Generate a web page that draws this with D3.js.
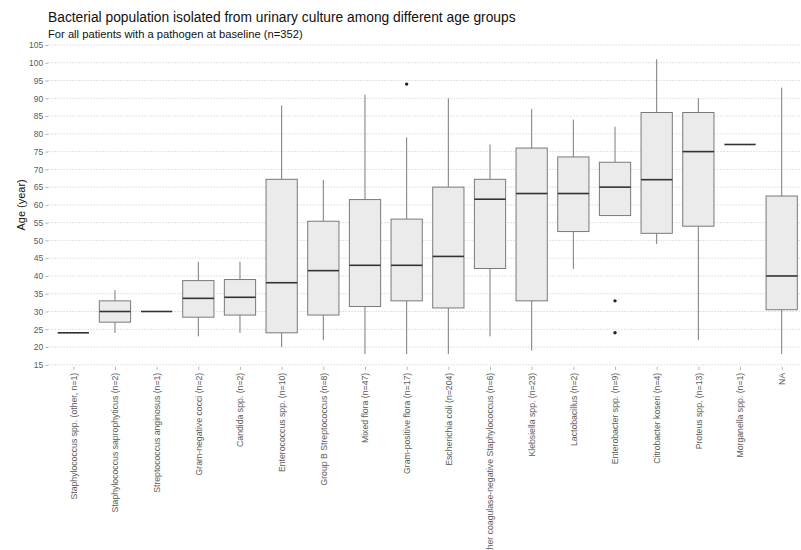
<!DOCTYPE html>
<html>
<head>
<meta charset="utf-8">
<script src="https://cdn.jsdelivr.net/npm/d3@7"></script>
<style>
  body { margin: 0; background: #fff; }
  svg { font-family: "Liberation Sans", Arial, sans-serif; }
</style>
</head>
<body>
<div id="chart"></div>
<script>
// Categories on the x axis
const categories = [
  "Staphylococcus spp. (other, n=1)",
  "Staphylococcus saprophyticus (n=2)",
  "Streptococcus anginosus (n=1)",
  "Gram-negative cocci (n=2)",
  "Candida spp. (n=2)",
  "Enterococcus spp. (n=10)",
  "Group B Streptococcus (n=8)",
  "Mixed flora (n=47)",
  "Gram-positive flora (n=17)",
  "Escherichia coli (n=204)",
  "Other coagulase-negative Staphylococcus (n=6)",
  "Klebsiella spp. (n=23)",
  "Lactobacillus (n=2)",
  "Enterobacter spp. (n=9)",
  "Citrobacter koseri (n=4)",
  "Proteus spp. (n=13)",
  "Morganella spp. (n=1)",
  "NA"
];

// Box statistics (years)
const whiskerLow  = [24, 24, 30, 23, 24, 20, 22, 18, 18, 18, 23, 19, 42, 57, 49, 22, 77, 18];
const q1          = [24, 27, 30, 28.4, 29, 24, 29, 31.4, 33, 31, 42.1, 33, 52.5, 57, 52, 54, 77, 30.5];
const median      = [24, 30, 30, 33.7, 34, 38.1, 41.5, 43, 43, 45.5, 61.6, 63.2, 63.2, 65, 67.1, 75, 77, 40];
const q3          = [24, 33, 30, 38.7, 39, 67.2, 55.4, 61.5, 56, 65, 67.2, 76, 73.5, 72, 86, 86, 77, 62.5];
const whiskerHigh = [24, 36, 30, 44, 44, 88, 67, 91, 79, 90, 77, 87, 84, 82, 101, 90, 77, 93];
// Outliers as [category index, value]
const outliers = [[8, 94], [13, 33], [13, 24]];

const yTicks = d3.range(15, 106, 5);

const width = 801, height = 550;
const margin = { top: 45, left: 48.3 };
const panelRight = 806.7, panelBottom = 364.8;

const svg = d3.select('#chart')
  .append('svg')
  .attr('width', width)
  .attr('height', height);

const x = d3.scalePoint()
  .domain(categories)
  .range([margin.left, panelRight])
  .padding(0.6);

const y = d3.scaleLinear()
  .domain([15, 105])
  .range([panelBottom, margin.top]);

const boxW = x.step() * 0.75;

// Horizontal dotted grid
svg.append('g')
  .selectAll('line')
  .data(yTicks)
  .enter()
  .append('line')
  .attr('x1', margin.left)
  .attr('x2', width)
  .attr('y1', d => y(d))
  .attr('y2', d => y(d))
  .style('stroke', '#d9d9d9')
  .style('stroke-width', 1)
  .style('stroke-dasharray', '1.5,1.5');

// Y axis
const yAxis = svg.append('g')
  .attr('transform', `translate(${margin.left},0)`)
  .call(d3.axisLeft(y).tickValues(yTicks).tickSize(3).tickPadding(2));
yAxis.select('.domain').remove();
yAxis.selectAll('line').style('stroke', '#b3b3b3');
yAxis.selectAll('text')
  .style('font-size', '8.5px')
  .style('fill', '#5a5a5a')
  .style('font-family', '"Liberation Sans", Arial, sans-serif');

// X axis with rotated labels
const xAxis = svg.append('g')
  .attr('transform', `translate(0,${panelBottom + 2})`)
  .call(d3.axisBottom(x).tickSize(3).tickPadding(3));
xAxis.select('.domain').remove();
xAxis.selectAll('line').style('stroke', '#b3b3b3');
xAxis.selectAll('text')
  .attr('transform', 'rotate(-90)')
  .attr('x', -6)
  .attr('y', 0)
  .attr('dy', '0.32em')
  .style('text-anchor', 'end')
  .style('font-size', '8.7px')
  .style('fill', '#5a5a5a')
  .style('font-family', '"Liberation Sans", Arial, sans-serif');

// Boxes
const boxes = svg.append('g')
  .selectAll('g')
  .data(categories.map((c, i) => ({
    cat: c,
    lo: whiskerLow[i], q1: q1[i], med: median[i], q3: q3[i], hi: whiskerHigh[i]
  })))
  .enter()
  .append('g')
  .attr('transform', d => `translate(${x(d.cat)},0)`);

boxes.append('line')
  .attr('y1', d => y(d.q3))
  .attr('y2', d => y(d.hi))
  .style('stroke', '#7a7a7a');

boxes.append('line')
  .attr('y1', d => y(d.q1))
  .attr('y2', d => y(d.lo))
  .style('stroke', '#7a7a7a');

boxes.append('rect')
  .attr('x', -boxW / 2)
  .attr('width', boxW)
  .attr('y', d => y(d.q3))
  .attr('height', d => y(d.q1) - y(d.q3))
  .style('fill', '#ebebeb')
  .style('stroke', '#7a7a7a')
  .style('stroke-width', 1);

boxes.append('line')
  .attr('x1', -boxW / 2)
  .attr('x2', boxW / 2)
  .attr('y1', d => y(d.med))
  .attr('y2', d => y(d.med))
  .style('stroke', '#333')
  .style('stroke-width', 1.6);

// Outlier points
svg.append('g')
  .selectAll('circle')
  .data(outliers)
  .enter()
  .append('circle')
  .attr('cx', d => x(categories[d[0]]))
  .attr('cy', d => y(d[1]))
  .attr('r', 1.7)
  .style('fill', '#222');

// Titles
svg.append('text')
  .attr('x', 48)
  .attr('y', 22)
  .text('Bacterial population isolated from urinary culture among different age groups')
  .style('font-size', '13.8px')
  .style('fill', '#111');

svg.append('text')
  .attr('x', 48)
  .attr('y', 38)
  .text('For all patients with a pathogen at baseline (n=352)')
  .style('font-size', '11.2px')
  .style('fill', '#111');

svg.append('text')
  .attr('transform', `translate(25,${(margin.top + panelBottom) / 2}) rotate(-90)`)
  .style('text-anchor', 'middle')
  .text('Age (year)')
  .style('font-size', '11px')
  .style('fill', '#111');
</script>
</body>
</html>
